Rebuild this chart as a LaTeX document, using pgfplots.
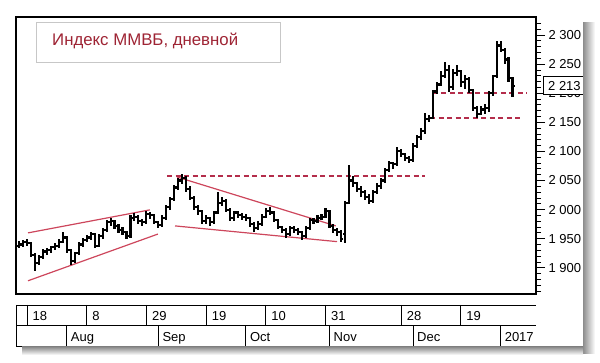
\documentclass[border=0pt]{standalone}
\usepackage{fontspec}
\setmainfont{Liberation Sans}
\usepackage{pgfplots}
\pgfplotsset{compat=1.18}
\usepackage{pgfplotstable}
\definecolor{trend}{RGB}{205,70,92}
\definecolor{dashc}{RGB}{180,45,75}
\definecolor{titlered}{RGB}{158,36,52}
\pgfdeclareplotmark{closetick}{\pgfpathmoveto{\pgfpointorigin}\pgfpathlineto{\pgfpoint{2.1pt}{0pt}}\pgfusepathqstroke}
\pgfdeclareplotmark{opentick}{\pgfpathmoveto{\pgfpointorigin}\pgfpathlineto{\pgfpoint{-2.1pt}{0pt}}\pgfusepathqstroke}

\pgfplotstableread{
i o h l c
-2 1938 1946 1934 1940
-1 1940 1948 1936 1945
0 1945 1950 1938 1942
1 1942 1944 1918 1922
2 1922 1926 1895 1908
3 1908 1922 1905 1918
4 1918 1932 1915 1928
5 1928 1934 1922 1930
6 1930 1938 1926 1935
7 1935 1942 1930 1938
8 1938 1950 1934 1945
9 1945 1962 1942 1952
10 1952 1954 1926 1930
11 1930 1932 1905 1912
12 1912 1928 1908 1925
13 1925 1944 1922 1940
14 1940 1952 1936 1948
15 1948 1956 1944 1952
16 1952 1962 1948 1958
17 1958 1960 1934 1938
18 1938 1958 1935 1955
19 1955 1968 1950 1965
20 1965 1982 1962 1978
21 1978 1986 1972 1980
22 1980 1982 1966 1972
23 1972 1976 1960 1965
24 1965 1970 1956 1962
25 1962 1964 1950 1955
26 1955 1990 1952 1985
27 1985 1994 1980 1988
28 1988 1990 1976 1980
29 1980 1984 1972 1978
30 1978 1998 1975 1993
31 1993 1996 1984 1990
32 1990 1992 1975 1978
33 1978 1980 1968 1974
34 1974 1990 1970 1985
35 1985 2008 1982 2005
36 2005 2022 2000 2018
37 2018 2042 2015 2038
38 2038 2055 2034 2050
39 2050 2062 2044 2055
40 2055 2058 2030 2035
41 2035 2040 2016 2020
42 2020 2024 2000 2005
43 2005 2008 1990 1998
44 1998 2000 1975 1980
45 1980 1990 1976 1985
46 1985 1988 1972 1978
47 1978 1998 1975 1995
48 1995 2030 1992 2012
49 2012 2022 2006 2015
50 2015 2018 1996 2000
51 2000 2002 1980 1985
52 1985 1998 1980 1995
53 1995 1998 1985 1990
54 1990 1995 1983 1988
55 1988 1992 1980 1985
56 1985 1988 1970 1975
57 1975 1978 1962 1968
58 1968 1980 1965 1975
59 1975 1992 1972 1988
60 1988 2002 1985 1998
61 1998 2004 1990 1995
62 1995 1997 1978 1982
63 1982 1984 1966 1970
64 1970 1972 1960 1965
65 1965 1968 1952 1958
66 1958 1972 1955 1968
67 1968 1972 1960 1965
68 1965 1968 1956 1962
69 1962 1964 1948 1955
70 1955 1972 1952 1968
71 1968 1986 1965 1982
72 1982 1986 1975 1980
73 1980 1990 1977 1985
74 1985 1992 1982 1988
75 1988 2002 1985 1998
76 1998 2000 1968 1972
77 1972 1975 1960 1965
78 1965 1968 1955 1962
79 1962 1965 1945 1950
80 1958 2015 1943 2012
81 2012 2077 2010 2050
82 2050 2058 2038 2045
83 2045 2048 2030 2035
84 2035 2040 2022 2030
85 2030 2034 2016 2022
86 2022 2026 2010 2015
87 2015 2034 2012 2030
88 2030 2045 2026 2040
89 2040 2055 2036 2050
90 2050 2072 2046 2068
91 2068 2084 2064 2080
92 2080 2082 2070 2078
93 2078 2107 2075 2100
94 2100 2104 2090 2095
95 2095 2098 2084 2088
96 2088 2092 2080 2085
97 2085 2114 2082 2110
98 2110 2128 2106 2125
99 2125 2140 2120 2135
100 2135 2166 2130 2155
101 2155 2162 2150 2158
102 2158 2206 2155 2203
103 2203 2220 2198 2215
104 2215 2238 2212 2230
105 2230 2254 2226 2240
106 2240 2248 2202 2210
107 2210 2242 2206 2235
108 2235 2248 2230 2238
109 2238 2240 2210 2220
110 2220 2232 2208 2225
111 2225 2228 2200 2205
112 2205 2208 2170 2175
113 2175 2178 2157 2165
114 2165 2178 2162 2172
115 2172 2182 2165 2175
116 2175 2204 2168 2200
117 2200 2232 2196 2230
118 2230 2290 2226 2282
119 2282 2290 2270 2275
120 2275 2278 2250 2258
121 2258 2262 2220 2226
122 2226 2228 2194 2213
}\ohlc

\begin{document}
\begin{tikzpicture}
\path[use as bounding box] (0pt,0pt) rectangle (600pt,363pt);
\begin{axis}[
  at={(16pt,69pt)}, anchor=south west,
  scale only axis, width=520pt, height=277pt,
  xmin=-2.76, xmax=127.9, ymin=1855, ymax=2331,
  clip=false,
  xtick=\empty,
  ytick={1900,1950,...,2300},
  minor ytick={1860,1870,...,2320},
  ytick pos=right, yticklabel pos=right,
  tick align=outside,
  major tick length=9pt, minor tick length=5pt,
  tick style={black, line width=0.8pt},
  axis line style={black, line width=1.3pt},
  yticklabel style={font=\fontsize{13}{15}\selectfont, anchor=west},
  /pgf/number format/1000 sep={\ },
  /pgf/number format/assume math mode=true,
]
% trend lines
\addplot[trend, line width=1.2pt, mark=none] coordinates {(0.25,1960) (30.9,1999.6)};
\addplot[trend, line width=1.2pt, mark=none] coordinates {(0.25,1877.7) (32.9,1958)};
\addplot[trend, line width=1.2pt, mark=none] coordinates {(37.7,2056) (77.6,1972)};
\addplot[trend, line width=1.2pt, mark=none] coordinates {(37.2,1972) (77.9,1945)};
\addplot[dashc, line width=1.6pt, dash pattern=on 5pt off 3.5pt, mark=none] coordinates {(35.2,2057.8) (100,2057.8)};
\addplot[dashc, line width=1.6pt, dash pattern=on 5pt off 3.5pt, mark=none] coordinates {(102,2200.6) (125.6,2200.6)};
\addplot[dashc, line width=1.6pt, dash pattern=on 5pt off 3.5pt, mark=none] coordinates {(101.3,2157) (124.6,2157)};
% OHLC bars
\addplot[black, line width=2.1pt, only marks, mark=closetick,
  error bars/.cd, y dir=both, y explicit, error mark=none,
  error bar style={black, line width=2.1pt}]
  table[x=i, y=c, y error plus expr=\thisrow{h}-\thisrow{c}, y error minus expr=\thisrow{c}-\thisrow{l}] {\ohlc};
\addplot[black, line width=2.1pt, only marks, mark=opentick] table[x=i, y=o] {\ohlc};
% date strip
\draw[black, line width=0.9pt] (axis cs:-2.76,1836.1) -- (axis cs:127.9,1836.1);
\draw[black, line width=0.9pt] (axis cs:-2.76,1801.7) -- (axis cs:127.9,1801.7);
\draw[black, line width=0.9pt] (axis cs:-2.76,1765.6) -- (axis cs:127.9,1765.6);
\draw[black, line width=0.9pt] (axis cs:-2.6,1836.1) -- (axis cs:-2.6,1765.6);
\draw[black, line width=0.9pt] (axis cs:0,1836.1) -- (axis cs:0,1801.7);
\draw[black, line width=0.9pt] (axis cs:15,1836.1) -- (axis cs:15,1801.7);
\draw[black, line width=0.9pt] (axis cs:30,1836.1) -- (axis cs:30,1801.7);
\draw[black, line width=0.9pt] (axis cs:45,1836.1) -- (axis cs:45,1801.7);
\draw[black, line width=0.9pt] (axis cs:60,1836.1) -- (axis cs:60,1801.7);
\draw[black, line width=0.9pt] (axis cs:75,1836.1) -- (axis cs:75,1801.7);
\draw[black, line width=0.9pt] (axis cs:94,1836.1) -- (axis cs:94,1801.7);
\draw[black, line width=0.9pt] (axis cs:109,1836.1) -- (axis cs:109,1801.7);
\draw[black, line width=0.9pt] (axis cs:10,1801.7) -- (axis cs:10,1765.6);
\draw[black, line width=0.9pt] (axis cs:33,1801.7) -- (axis cs:33,1765.6);
\draw[black, line width=0.9pt] (axis cs:55,1801.7) -- (axis cs:55,1765.6);
\draw[black, line width=0.9pt] (axis cs:76,1801.7) -- (axis cs:76,1765.6);
\draw[black, line width=0.9pt] (axis cs:97,1801.7) -- (axis cs:97,1765.6);
\draw[black, line width=0.9pt] (axis cs:119,1801.7) -- (axis cs:119,1765.6);
\begin{scope}[every node/.style={anchor=base west, inner sep=0pt, font=\fontsize{13}{15}\selectfont}]
\node[xshift=5.5pt] at (axis cs:0,1810.3) {18};
\node[xshift=5.5pt] at (axis cs:15,1810.3) {8};
\node[xshift=5.5pt] at (axis cs:30,1810.3) {29};
\node[xshift=5.5pt] at (axis cs:45,1810.3) {19};
\node[xshift=5.5pt] at (axis cs:60,1810.3) {10};
\node[xshift=5.5pt] at (axis cs:75,1810.3) {31};
\node[xshift=5.5pt] at (axis cs:94,1810.3) {28};
\node[xshift=5.5pt] at (axis cs:109,1810.3) {19};
\node[xshift=4pt] at (axis cs:10,1773.4) {Aug};
\node[xshift=4pt] at (axis cs:33,1773.4) {Sep};
\node[xshift=4pt] at (axis cs:55,1773.4) {Oct};
\node[xshift=4pt] at (axis cs:76,1773.4) {Nov};
\node[xshift=4pt] at (axis cs:97,1773.4) {Dec};
\node[xshift=4pt] at (axis cs:119,1773.4) {2017};
\end{scope}
% last value box
\node[anchor=west, draw=black, line width=0.9pt, fill=white, inner sep=1pt, minimum width=42pt, minimum height=18pt, font=\fontsize{13}{15}\selectfont, xshift=7pt] at (axis cs:127.9,2213) {2 213};
\end{axis}
% title box
\draw[black!22, line width=0.9pt] (36.7pt,340.3pt) rectangle (280.7pt,300.7pt);
\node[anchor=base west, inner sep=0pt, text=titlered, font=\fontsize{16.8}{19}\selectfont] at (52pt,317.3pt) {Индекс ММВБ, дневной};
% panel shadow
\shade[left color=black!45, right color=white] (583pt,9pt) rectangle (595pt,340pt);
\shade[top color=black!45, bottom color=white] (22pt,16pt) rectangle (583pt,8pt);
\end{tikzpicture}
\end{document}
